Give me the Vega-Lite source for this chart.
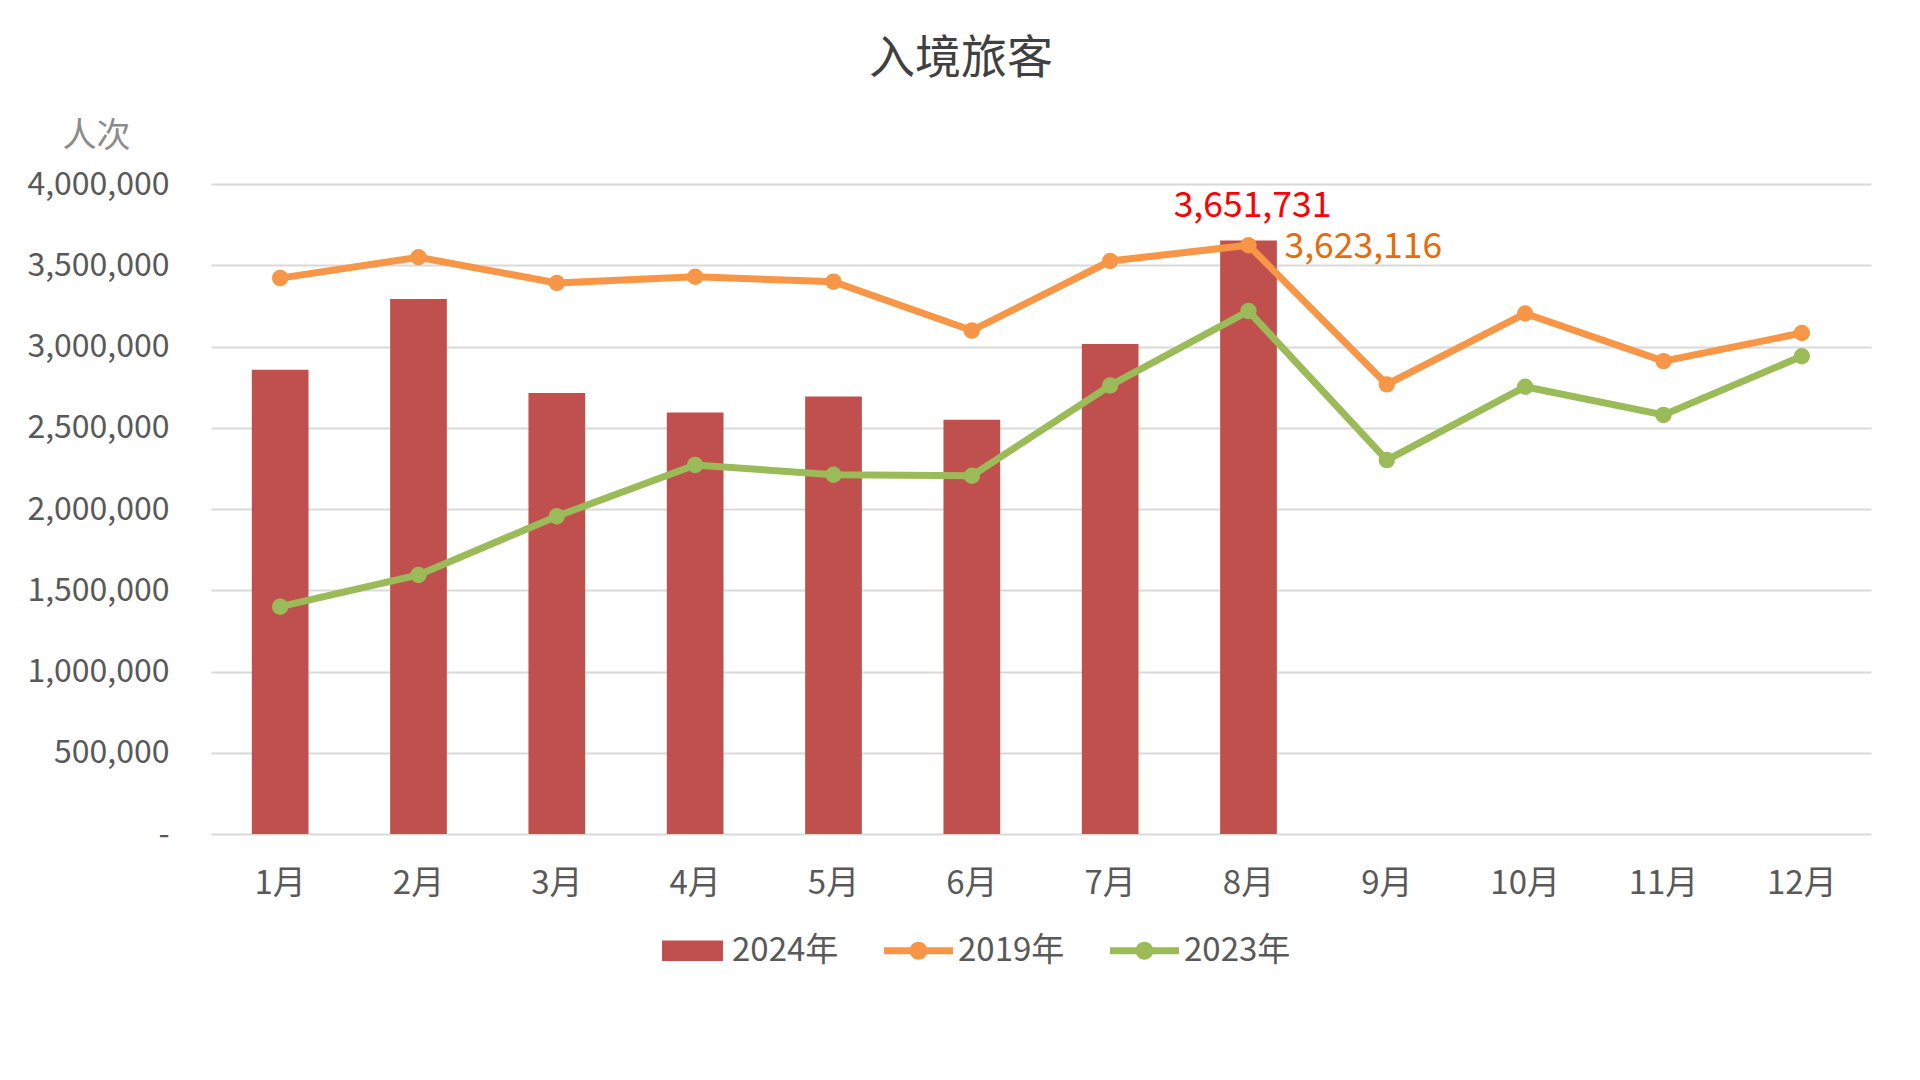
{
  "$schema": "https://vega.github.io/schema/vega-lite/v6.json",
  "width": 1660,
  "height": 650,
  "autosize": {"type": "none"},
  "padding": {"left": 211, "top": 184, "right": 49, "bottom": 246},
  "background": "white",
  "title": {
    "text": "入境旅客",
    "anchor": "middle",
    "frame": "group",
    "dx": -80,
    "offset": 36,
    "fontSize": 46,
    "fontWeight": "normal",
    "color": "#404040",
    "font": "Noto Sans CJK SC"
  },
  "config": {
    "view": {"stroke": null},
    "font": "Noto Sans CJK SC"
  },
  "data": {
    "values": [
      {"month": "1月", "series": "2024年", "value": 2857000},
      {"month": "2月", "series": "2024年", "value": 3293000},
      {"month": "3月", "series": "2024年", "value": 2714000},
      {"month": "4月", "series": "2024年", "value": 2594000},
      {"month": "5月", "series": "2024年", "value": 2692000},
      {"month": "6月", "series": "2024年", "value": 2549000},
      {"month": "7月", "series": "2024年", "value": 3015000},
      {"month": "8月", "series": "2024年", "value": 3651731},
      {"month": "1月", "series": "2019年", "value": 3421000},
      {"month": "2月", "series": "2019年", "value": 3549000},
      {"month": "3月", "series": "2019年", "value": 3391000},
      {"month": "4月", "series": "2019年", "value": 3429000},
      {"month": "5月", "series": "2019年", "value": 3399000},
      {"month": "6月", "series": "2019年", "value": 3098000},
      {"month": "7月", "series": "2019年", "value": 3526000},
      {"month": "8月", "series": "2019年", "value": 3623116},
      {"month": "9月", "series": "2019年", "value": 2767000},
      {"month": "10月", "series": "2019年", "value": 3203000},
      {"month": "11月", "series": "2019年", "value": 2910000},
      {"month": "12月", "series": "2019年", "value": 3083000},
      {"month": "1月", "series": "2023年", "value": 1399000},
      {"month": "2月", "series": "2023年", "value": 1594000},
      {"month": "3月", "series": "2023年", "value": 1955000},
      {"month": "4月", "series": "2023年", "value": 2271000},
      {"month": "5月", "series": "2023年", "value": 2211000},
      {"month": "6月", "series": "2023年", "value": 2205000},
      {"month": "7月", "series": "2023年", "value": 2760000},
      {"month": "8月", "series": "2023年", "value": 3218000},
      {"month": "9月", "series": "2023年", "value": 2301000},
      {"month": "10月", "series": "2023年", "value": 2752000},
      {"month": "11月", "series": "2023年", "value": 2579000},
      {"month": "12月", "series": "2023年", "value": 2940000}
    ]
  },
  "encoding": {
    "x": {
      "field": "month",
      "type": "nominal",
      "scale": {
        "domain": ["1月", "2月", "3月", "4月", "5月", "6月", "7月", "8月", "9月", "10月", "11月", "12月"],
        "paddingInner": 0,
        "paddingOuter": 0
      },
      "axis": {
        "title": null,
        "labelAngle": 0,
        "domain": false,
        "ticks": false,
        "tickSize": 0,
        "labelPadding": 33,
        "labelFontSize": 33,
        "labelColor": "#595959",
        "labelFont": "Noto Sans CJK SC"
      }
    },
    "y": {
      "field": "value",
      "type": "quantitative",
      "scale": {"domain": [0, 4000000], "nice": false},
      "axis": {
        "title": "人次",
        "titleAngle": 0,
        "titleX": -115,
        "titleY": -48,
        "titleAlign": "center",
        "titleBaseline": "middle",
        "titleFontSize": 34,
        "titleFontWeight": "normal",
        "titleColor": "#8c8c8c",
        "titleFont": "Noto Sans CJK SC",
        "values": [0, 500000, 1000000, 1500000, 2000000, 2500000, 3000000, 3500000, 4000000],
        "labelExpr": "datum.value === 0 ? '-\u2002' : format(datum.value, ',')",
        "domain": false,
        "ticks": false,
        "tickSize": 0,
        "labelPadding": 42,
        "labelFontSize": 32,
        "labelColor": "#595959",
        "labelFont": "Noto Sans CJK SC",
        "gridColor": "#d9d9d9",
        "gridWidth": 2
      }
    }
  },
  "layer": [
    {
      "transform": [{"filter": "datum.series === '2024年'"}],
      "mark": {"type": "bar", "width": {"band": 0.41}},
      "encoding": {
        "color": {
          "field": "series",
          "type": "nominal",
          "scale": {
            "domain": ["2024年", "2019年", "2023年"],
            "range": ["#C0504D", "#F79646", "#9BBB59"]
          },
          "legend": {
            "title": null,
            "orient": "none",
            "direction": "horizontal",
            "legendX": 461,
            "legendY": 746,
            "padding": 0,
            "symbolSize": 1650,
            "symbolStrokeWidth": 0,
            "labelOffset": 19,
            "columnPadding": 44,
            "labelFontSize": 33,
            "labelColor": "#595959",
            "labelFont": "Noto Sans CJK SC",
            "encode": {
              "symbols": {
                "update": {
                  "shape": {"signal": "datum.value === '2024年' ? 'M-1.5,-0.5H1.5V0.5H-1.5Z' : 'M-1.7,-0.17H1.7V0.17H-1.7Z M0.44,0A0.44,0.44 0 1,1 -0.44,0A0.44,0.44 0 1,1 0.44,0Z'"},
                  "fill": {"scale": "color", "field": "value"},
                  "strokeWidth": {"value": 0},
                  "opacity": {"value": 1},
                  "fillOpacity": {"value": 1}
                }
              }
            }
          }
        }
      }
    },
    {
      "transform": [{"filter": "datum.series !== '2024年'"}],
      "mark": {"type": "line", "strokeWidth": 7},
      "encoding": {
        "color": {"field": "series", "type": "nominal"}
      }
    },
    {
      "transform": [{"filter": "datum.series !== '2024年'"}],
      "mark": {"type": "point", "filled": true, "size": 270, "opacity": 1},
      "encoding": {
        "color": {"field": "series", "type": "nominal"}
      }
    },
    {
      "transform": [{"filter": "datum.series === '2024年' && datum.month === '8月'"}],
      "mark": {
        "type": "text",
        "align": "center",
        "baseline": "alphabetic",
        "dx": 4,
        "dy": -24,
        "fontSize": 35.5,
        "color": "#FF0000",
        "font": "Noto Sans CJK SC"
      },
      "encoding": {
        "text": {"field": "value", "type": "quantitative", "format": ","}
      }
    },
    {
      "transform": [{"filter": "datum.series === '2019年' && datum.month === '8月'"}],
      "mark": {
        "type": "text",
        "align": "left",
        "baseline": "middle",
        "dx": 36,
        "dy": 2,
        "fontSize": 35.5,
        "color": "#E46C0A",
        "font": "Noto Sans CJK SC"
      },
      "encoding": {
        "text": {"field": "value", "type": "quantitative", "format": ","}
      }
    }
  ]
}
